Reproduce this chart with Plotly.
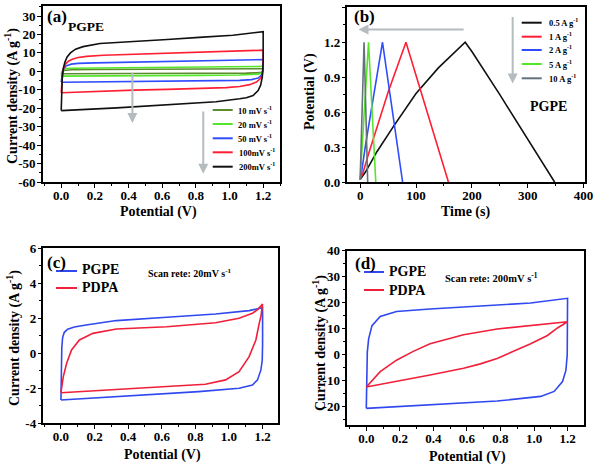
import plotly.graph_objects as go

# ---------------- data ----------------
# (a) CV of PGPE at different scan rates: forward (up) and reverse (down) branches
a_labels = ["10 mV s<sup>-1</sup>", "20 mV s<sup>-1</sup>", "50 mV s<sup>-1</sup>",
            "100mV s<sup>-1</sup>", "200mV s<sup>-1</sup>"]
a10_up_v = [0, 0.003, 0.008, 0.015, 0.03, 0.06, 0.2, 0.6, 1.0, 1.2]
a10_up_i = [-1.3, -0.6, 0.1, 0.5, 0.75, 0.9, 1.0, 1.1, 1.25, 1.4]
a10_dn_v = [1.2, 1.2, 1.19, 1.16, 1.1, 0.8, 0.4, 0.0]
a10_dn_i = [1.4, 0.2, -0.5, -0.8, -0.95, -1.05, -1.15, -1.3]

a20_up_v = [0, 0.003, 0.008, 0.015, 0.03, 0.06, 0.2, 0.43, 0.63, 0.82, 1.02, 1.2]
a20_up_i = [-2.6, -1.2, 0.2, 1.0, 1.5, 1.7, 1.85, 2.0, 2.1, 2.25, 2.45, 2.7]
a20_dn_v = [1.2, 1.2, 1.19, 1.17, 1.13, 1.06, 0.82, 0.43, 0.0]
a20_dn_i = [2.7, 0.5, -0.9, -1.5, -1.8, -2.0, -2.2, -2.4, -2.6]

a50_up_v = [0, 0.003, 0.008, 0.015, 0.03, 0.06, 0.1, 0.2, 0.43, 0.63, 0.82, 1.02, 1.2]
a50_up_i = [-5.9, -3.0, -0.5, 1.5, 3.0, 3.9, 4.3, 4.6, 5.0, 5.3, 5.6, 5.9, 6.4]
a50_dn_v = [1.2, 1.2, 1.19, 1.17, 1.13, 1.06, 0.9, 0.63, 0.43, 0.2, 0.0]
a50_dn_i = [6.4, 1.0, -2.0, -3.6, -4.5, -4.9, -5.1, -5.3, -5.5, -5.7, -5.9]

a100_up_v = [0, 0.003, 0.008, 0.015, 0.028, 0.045, 0.07, 0.1, 0.15, 0.25, 0.43, 0.63, 0.82, 1.02, 1.2]
a100_up_i = [-11.6, -6.0, -1.5, 2.0, 4.2, 5.6, 6.7, 7.5, 8.1, 8.7, 9.2, 9.6, 10.2, 10.8, 11.5]
a100_dn_v = [1.2, 1.2, 1.195, 1.185, 1.16, 1.12, 1.06, 0.98, 0.8, 0.63, 0.43, 0.23, 0.0]
a100_dn_i = [11.5, 2.0, -1.8, -3.8, -5.8, -7.2, -8.2, -8.8, -9.4, -9.8, -10.2, -10.7, -11.6]

a200_up_v = [0, 0.002, 0.006, 0.012, 0.022, 0.035, 0.055, 0.085, 0.13, 0.23, 0.43, 0.63, 0.82, 1.02, 1.2]
a200_up_i = [-21.3, -12.0, -4.0, 1.5, 5.0, 7.8, 10.0, 12.0, 13.4, 15.1, 16.4, 17.3, 18.4, 19.6, 21.5]
a200_dn_v = [1.2, 1.2, 1.195, 1.185, 1.17, 1.14, 1.1, 1.06, 0.92, 0.63, 0.33, 0.0]
a200_dn_i = [21.5, 5.0, -3.0, -7.5, -10.4, -13.1, -14.3, -14.9, -16.5, -18.2, -19.8, -21.3]

# (b) galvanostatic charge/discharge of PGPE
b_labels = ["0.5 A g<sup>-1</sup>", "1 A g<sup>-1</sup>", "2 A g<sup>-1</sup>",
            "5 A g<sup>-1</sup>", "10 A g<sup>-1</sup>"]
b05_t = [0, 10, 30, 60, 100, 140, 188, 200, 250, 300, 348]
b05_v = [0.02, 0.09, 0.26, 0.48, 0.76, 0.98, 1.2, 1.12, 0.75, 0.37, 0.0]
b1_t = [0, 5, 15, 30, 50, 82, 100, 130, 158]
b1_v = [0.02, 0.08, 0.24, 0.47, 0.77, 1.2, 0.92, 0.45, 0.0]
b2_t = [0, 3, 10, 20, 40, 58, 76]
b2_v = [0.02, 0.1, 0.33, 0.63, 1.2, 0.6, 0.0]
b5_t = [0, 3, 8, 15, 28]
b5_v = [0.02, 0.25, 0.64, 1.2, 0.0]
b10_t = [0, 3.5, 7, 13.5]
b10_v = [0.02, 0.6, 1.2, 0.0]

# (c) PGPE vs PDPA at 20 mV/s
c_pgpe_up_v = [0, 0.002, 0.005, 0.01, 0.02, 0.04, 0.08, 0.15, 0.33, 0.63, 0.92, 1.12, 1.2]
c_pgpe_up_i = [-2.67, -1.0, 0.3, 0.9, 1.2, 1.38, 1.5, 1.62, 1.87, 2.06, 2.25, 2.44, 2.6]
c_pgpe_dn_v = [1.2, 1.2, 1.198, 1.19, 1.17, 1.14, 1.06, 0.82, 0.43, 0.0]
c_pgpe_dn_i = [2.6, 0.5, -0.4, -0.95, -1.52, -1.81, -2.0, -2.19, -2.42, -2.67]
c_pdpa_up_v = [0, 0.005, 0.014, 0.034, 0.063, 0.11, 0.19, 0.33, 0.63, 0.92, 1.06, 1.14, 1.17, 1.2]
c_pdpa_up_i = [-2.25, -1.9, -1.33, -0.57, 0.19, 0.76, 1.14, 1.39, 1.52, 1.75, 2.0, 2.29, 2.5, 2.82]
c_pdpa_dn_v = [1.2, 1.19, 1.18, 1.16, 1.12, 1.06, 0.98, 0.86, 0.63, 0.33, 0.0]
c_pdpa_dn_i = [2.82, 2.1, 1.71, 0.76, -0.19, -1.05, -1.52, -1.77, -1.9, -2.06, -2.25]

# (d) PGPE vs PDPA at 200 mV/s
d_pgpe_up_v = [0, 0.002, 0.006, 0.014, 0.034, 0.083, 0.18, 0.38, 0.58, 0.78, 0.98, 1.2]
d_pgpe_up_i = [-20.6, -8.0, 1.0, 6.1, 11.2, 14.7, 16.6, 17.6, 18.3, 19.0, 19.9, 21.7]
d_pgpe_dn_v = [1.2, 1.2, 1.198, 1.19, 1.17, 1.12, 1.04, 0.78, 0.38, 0.0]
d_pgpe_dn_i = [21.7, 8.0, 0.0, -6.0, -10.3, -14.1, -16.0, -17.8, -19.1, -20.6]
d_pdpa_up_v = [0, 0.04, 0.083, 0.18, 0.28, 0.38, 0.48, 0.58, 0.78, 0.98, 1.2]
d_pdpa_up_i = [-12.4, -9.5, -6.5, -2.1, 1.3, 4.2, 6.1, 7.7, 9.9, 11.2, 12.7]
d_pdpa_dn_v = [1.2, 1.14, 1.08, 0.98, 0.88, 0.78, 0.68, 0.58, 0.38, 0.18, 0.0]
d_pdpa_dn_i = [12.7, 10.3, 7.4, 4.2, 1.5, -1.4, -3.5, -5.2, -7.8, -10.3, -12.4]

# tick labels
cv_x_ticks = [0, 0.2, 0.4, 0.6, 0.8, 1.0, 1.2]
cv_x_text = ["0.0", "0.2", "0.4", "0.6", "0.8", "1.0", "1.2"]
a_y_ticks = [-60, -50, -40, -30, -20, -10, 0, 10, 20, 30]
a_y_text = ["-60", "-50", "-40", "-30", "-20", "-10", "0", "10", "20", "30"]
b_x_ticks = [0, 100, 200, 300, 400]
b_x_text = ["0", "100", "200", "300", "400"]
b_y_ticks = [0, 0.3, 0.6, 0.9, 1.2, 1.5]
b_y_text = ["0.0", "0.3", "0.6", "0.9", "1.2", "1.5"]
c_y_ticks = [-4, -2, 0, 2, 4, 6]
c_y_text = ["-4", "-2", "0", "2", "4", "6"]
d_y_ticks = [-20, -10, 0, 10, 20, 30, 40]
d_y_text = ["-20", "-10", "0", "10", "20", "30", "40"]

# ---------------- styling ----------------
FONT = "Liberation Serif"
W, H = 597, 466
col_a = ["#5c8a2e", "#55e62a", "#2f4cff", "#ff1f33", "#111111"]
col_b = ["#111111", "#ff1f33", "#2f4cff", "#55e62a", "#64727c"]
BLUE = "#3048f0"
RED = "#f0203a"
ARROW = "#b4bcc0"


def px(x):
    return x / W


def py(y):
    return 1 - y / H


fig = go.Figure()

a_series = [(a10_up_v + a10_dn_v, a10_up_i + a10_dn_i),
            (a20_up_v + a20_dn_v, a20_up_i + a20_dn_i),
            (a50_up_v + a50_dn_v, a50_up_i + a50_dn_i),
            (a100_up_v + a100_dn_v, a100_up_i + a100_dn_i),
            (a200_up_v + a200_dn_v, a200_up_i + a200_dn_i)]
for (xv, yv), c in zip(a_series, col_a):
    fig.add_trace(go.Scatter(x=xv, y=yv, mode="lines", line=dict(color=c, width=1.6),
                             xaxis="x", yaxis="y", showlegend=False))

b_series = [(b05_t, b05_v), (b1_t, b1_v), (b2_t, b2_v), (b5_t, b5_v), (b10_t, b10_v)]
for (xv, yv), c in zip(b_series, col_b):
    fig.add_trace(go.Scatter(x=xv, y=yv, mode="lines", line=dict(color=c, width=1.6),
                             xaxis="x2", yaxis="y2", showlegend=False))

fig.add_trace(go.Scatter(x=c_pgpe_up_v + c_pgpe_dn_v, y=c_pgpe_up_i + c_pgpe_dn_i, mode="lines",
                         line=dict(color=BLUE, width=1.6), xaxis="x3", yaxis="y3", showlegend=False))
fig.add_trace(go.Scatter(x=c_pdpa_up_v + c_pdpa_dn_v, y=c_pdpa_up_i + c_pdpa_dn_i, mode="lines",
                         line=dict(color=RED, width=1.6), xaxis="x3", yaxis="y3", showlegend=False))
fig.add_trace(go.Scatter(x=d_pgpe_up_v + d_pgpe_dn_v, y=d_pgpe_up_i + d_pgpe_dn_i, mode="lines",
                         line=dict(color=BLUE, width=1.6), xaxis="x4", yaxis="y4", showlegend=False))
fig.add_trace(go.Scatter(x=d_pdpa_up_v + d_pdpa_dn_v, y=d_pdpa_up_i + d_pdpa_dn_i, mode="lines",
                         line=dict(color=RED, width=1.6), xaxis="x4", yaxis="y4", showlegend=False))


def axis(domain, rng, tv, tt, mdt, anchor, standoff):
    return dict(domain=domain, range=rng, tickmode="array", tickvals=tv, ticktext=tt,
                ticks="outside", ticklen=3.5, tickwidth=1.4, tickcolor="black",
                showline=True, linewidth=2, linecolor="black", mirror=True,
                showgrid=False, zeroline=False, anchor=anchor, automargin=False,
                ticklabelstandoff=standoff,
                tickfont=dict(family=FONT, size=13, color="black", weight="bold"),
                minor=dict(ticks="outside", ticklen=2, tickwidth=1.2, tickcolor="black",
                           dtick=mdt, tick0=0, showgrid=False))


dom_ax = [px(42.7), px(280)]
dom_bx = [px(347.3), px(585.3)]
dom_cx = [px(43.3), px(277.7)]
dom_dx = [px(347), px(584)]
dom_ay = [py(182), py(5.7)]
dom_by = [py(182), py(7.3)]
dom_cy = [py(423.3), py(248.3)]
dom_dy = [py(425), py(250.7)]

fig.update_layout(
    xaxis=axis(dom_ax, [-0.11, 1.3], cv_x_ticks, cv_x_text, 0.1, "y", -3),
    yaxis=axis(dom_ay, [-60, 35.6], a_y_ticks, a_y_text, 5, "x", -1),
    xaxis2=axis(dom_bx, [-23, 403], b_x_ticks, b_x_text, 50, "y2", -3),
    yaxis2=axis(dom_by, [0, 1.5], b_y_ticks, b_y_text, 0.15, "x2", -1),
    xaxis3=axis(dom_cx, [-0.105, 1.29], cv_x_ticks, cv_x_text, 0.1, "y3", -3),
    yaxis3=axis(dom_cy, [-4, 6], c_y_ticks, c_y_text, 1, "x3", -1),
    xaxis4=axis(dom_dx, [-0.115, 1.298], cv_x_ticks, cv_x_text, 0.1, "y4", -3),
    yaxis4=axis(dom_dy, [-27, 40], d_y_ticks, d_y_text, 5, "x4", -1),
)

ann = []
shapes = []


def text(x, y, s, size, anchor="left", angle=0):
    ann.append(dict(x=px(x), y=py(y), xref="paper", yref="paper", text=s, showarrow=False,
                    xanchor=anchor, yanchor="middle", textangle=angle,
                    font=dict(family=FONT, size=size, color="black", weight="bold")))


def legline(x0, x1, y, c):
    shapes.append(dict(type="line", xref="paper", yref="paper", x0=px(x0), x1=px(x1),
                       y0=py(y), y1=py(y), line=dict(color=c, width=2)))


# axis titles
ytitle_cd = "Current density (A g<sup>-1</sup>)"
text(12, 96, ytitle_cd, 14, "center", -90)
text(158, 212, "Potential (V)", 14, "center")
text(310, 92, "Potential (V)", 14, "center", -90)
text(465, 212, "Time (s)", 14, "center")
text(13, 338, ytitle_cd, 14, "center", -90)
text(162, 455, "Potential (V)", 14, "center")
text(319, 343, ytitle_cd, 14, "center", -90)
text(467, 457, "Potential (V)", 14, "center")

# panel labels
text(45, 17, "(a)", 17)
text(66, 27, "PGPE", 13.5)
text(352, 17, "(b)", 17)
text(528, 107, "PGPE", 14)
text(45, 262, "(c)", 17)
text(353, 263, "(d)", 17)

# legend (a)
a_rows = [110, 124, 138.3, 152.3, 166.7]
for lab, c, yy in zip(a_labels, col_a, a_rows):
    legline(212.7, 232.7, yy, c)
    text(236.5, yy, lab, 8.5)
# legend (b)
b_rows = [22.7, 36.7, 50, 64, 78.3]
for lab, c, yy in zip(b_labels, col_b, b_rows):
    legline(521.7, 541.7, yy, c)
    text(546.5, yy, lab, 8.5)
# legend (c)
legline(56, 77, 271, BLUE)
text(80, 269, "PGPE", 14)
legline(56, 77, 288, RED)
text(80, 287, "PDPA", 14)
text(146, 273, "Scan rete: 20mV s<sup>-1</sup>", 10)
# legend (d)
legline(364, 384, 272, BLUE)
text(387, 271, "PGPE", 14)
legline(364, 384, 290, RED)
text(387, 290, "PDPA", 14)
text(443, 277, "Scan rete: 200mV s<sup>-1</sup>", 10.5)


def arrow(x, y, ax, ay, xr, yr):
    ann.append(dict(x=x, y=y, ax=ax, ay=ay, xref=xr, yref=yr, axref=xr, ayref=yr,
                    showarrow=True, arrowhead=2, arrowsize=1, arrowwidth=2,
                    arrowcolor=ARROW, text=""))


arrow(0.423, -28, 0.423, 0, "x", "y")
arrow(0.844, -55.5, 0.844, -21, "x", "y")
arrow(-3, 1.31, 188, 1.31, "x2", "y2")
arrow(273, 0.845, 273, 1.43, "x2", "y2")

fig.update_layout(width=W, height=H, margin=dict(l=0, r=0, t=0, b=0, autoexpand=False),
                  autosize=False, paper_bgcolor="white", plot_bgcolor="white",
                  annotations=ann, shapes=shapes, showlegend=False)

fig.write_html("out.html", config={"displayModeBar": False},
               post_script="document.body.style.margin='0';document.body.style.overflow='hidden';")
